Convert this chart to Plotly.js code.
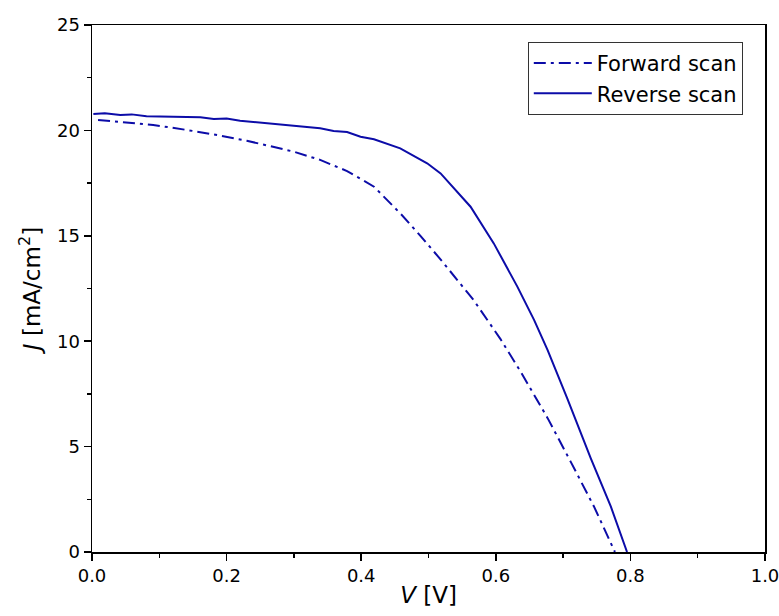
<!DOCTYPE html>
<html>
<head>
<meta charset="utf-8">
<script src="https://cdn.plot.ly/plotly-3.0.1.min.js"></script>
<style>html,body{margin:0;padding:0;background:#fff;}#plot{width:779px;height:616px;}</style>
</head>
<body>
<div id="plot"></div>
<script>
// Reverse scan (solid)
const reverseV = [0.002, 0.019, 0.042, 0.059, 0.081, 0.161, 0.181, 0.200, 0.220, 0.260, 0.320, 0.339, 0.359, 0.379, 0.399, 0.419, 0.458, 0.498, 0.518, 0.5625, 0.597, 0.632, 0.657, 0.677, 0.706, 0.741, 0.771, 0.795];
const reverseJ = [20.78, 20.81, 20.73, 20.76, 20.67, 20.62, 20.54, 20.56, 20.46, 20.34, 20.15, 20.10, 19.97, 19.92, 19.70, 19.58, 19.15, 18.44, 17.96, 16.38, 14.64, 12.59, 11.00, 9.58, 7.30, 4.45, 2.15, 0.0];
// Forward scan (dash-dot)
const forwardV = [0.009, 0.052, 0.091, 0.141, 0.181, 0.230, 0.300, 0.339, 0.379, 0.419, 0.460, 0.488, 0.520, 0.567, 0.607, 0.637, 0.677, 0.711, 0.746, 0.777];
const forwardJ = [20.49, 20.38, 20.26, 20.02, 19.81, 19.51, 18.99, 18.60, 18.07, 17.33, 16.00, 15.00, 13.80, 11.95, 10.10, 8.55, 6.35, 4.30, 2.15, 0.0];

const lineColor = '#0c0ca8';
const traces = [
  {x: forwardV, y: forwardJ, name: 'Forward scan', mode: 'lines',
   line: {color: lineColor, width: 2, dash: '12px,5px,3px,5px'}},
  {x: reverseV, y: reverseJ, name: 'Reverse scan', mode: 'lines',
   line: {color: lineColor, width: 2}}
];
const font = {family: 'DejaVu Sans, Liberation Sans, Arial, sans-serif', color: '#000'};
const layout = {
  width: 779, height: 616,
  margin: {l: 92, r: 14, t: 25, b: 64},
  paper_bgcolor: '#fff', plot_bgcolor: '#fff',
  font: Object.assign({size: 18}, font),
  showlegend: true,
  legend: {x: 0.967, y: 0.968, xanchor: 'right', yanchor: 'top',
    bordercolor: '#333', borderwidth: 1, bgcolor: '#fff',
    font: Object.assign({size: 21}, font), tracegroupgap: 0, itemwidth: 58},
  xaxis: {range: [0, 1], dtick: 0.2, tickformat: '.1f', showgrid: false, zeroline: false,
    showline: true, linecolor: '#000', linewidth: 1.5, mirror: true,
    ticks: 'outside', ticklen: 7, tickwidth: 1.5, tickcolor: '#000',
    ticklabeloverflow: 'allow',
    minor: {dtick: 0.1, ticks: 'outside', ticklen: 4, tickwidth: 1.5, tickcolor: '#000', showgrid: false},
    tickfont: Object.assign({size: 18}, font),
    title: {text: '<i>V</i> [V]', font: Object.assign({size: 23}, font), standoff: 2}},
  yaxis: {range: [0, 25], dtick: 5, showgrid: false, zeroline: false,
    showline: true, linecolor: '#000', linewidth: 1.5, mirror: true,
    ticks: 'outside', ticklen: 7, tickwidth: 1.5, tickcolor: '#000',
    minor: {dtick: 2.5, ticks: 'outside', ticklen: 4, tickwidth: 1.5, tickcolor: '#000', showgrid: false},
    tickfont: Object.assign({size: 18}, font),
    title: {text: '<i>J</i> [mA/cm<sup>2</sup>]', font: Object.assign({size: 23}, font), standoff: 10}}
};
Plotly.newPlot('plot', traces, layout, {displayModeBar: false, staticPlot: true});
</script>
</body>
</html>
